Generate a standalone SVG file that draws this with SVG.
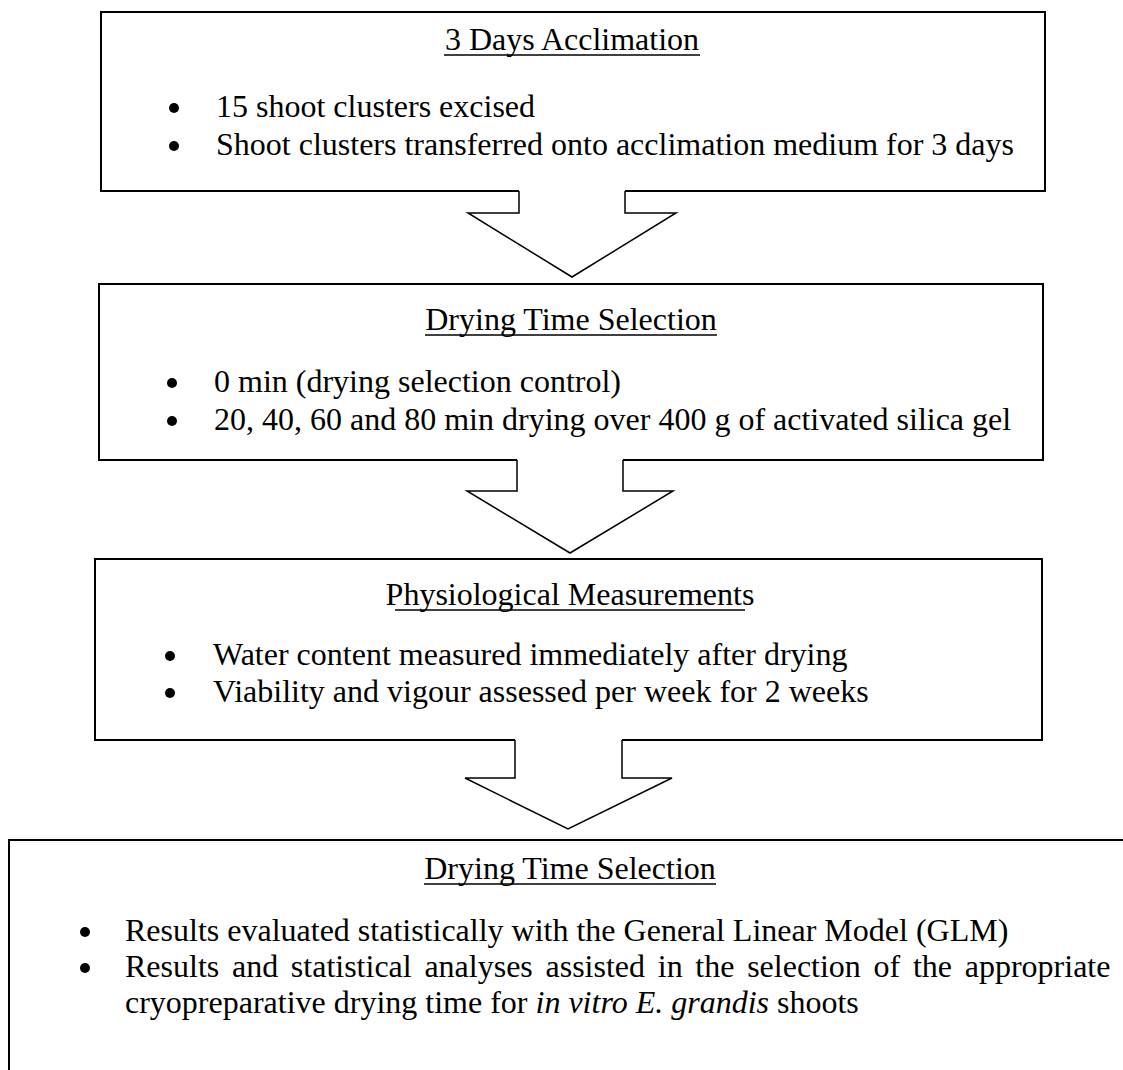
<svg xmlns="http://www.w3.org/2000/svg" width="1123" height="1070" viewBox="0 0 1123 1070">
<style>
.box{fill:#fff;stroke:#000;stroke-width:2}
.arr{fill:none;stroke:#000;stroke-width:1.5;stroke-linejoin:miter}
.cover{fill:#fff;stroke:none}
.bul{fill:#000}
text{font-family:"Liberation Serif","Times New Roman",serif;font-size:32px;fill:#000}
.h{text-anchor:middle}
.ul{stroke:#000;stroke-width:1.6}
</style>
<rect width="1123" height="1070" fill="#fff"/>
<g id="node1">
<rect class="box" x="101" y="12" width="944" height="179"/>
<text class="h" x="572" y="50">3 Days Acclimation</text>
<line class="ul" x1="444" y1="55" x2="700" y2="55"/>
<circle class="bul" cx="174" cy="108" r="5"/><text x="216" y="117">15 shoot clusters excised</text>
<circle class="bul" cx="174" cy="146" r="5"/><text x="216" y="155">Shoot clusters transferred onto acclimation medium for 3 days</text>
</g>
<g id="node2">
<rect class="box" x="99" y="284" width="944" height="176"/>
<text class="h" x="571" y="330">Drying Time Selection</text>
<line class="ul" x1="425" y1="335" x2="717" y2="335"/>
<circle class="bul" cx="172" cy="383" r="5"/><text x="214" y="392">0 min (drying selection control)</text>
<circle class="bul" cx="172" cy="421" r="5"/><text x="214" y="430">20, 40, 60 and 80 min drying over 400 g of activated silica gel</text>
</g>
<g id="node3">
<rect class="box" x="95" y="559" width="947" height="181"/>
<text class="h" x="570" y="605">Physiological Measurements</text>
<line class="ul" x1="395" y1="610" x2="745" y2="610"/>
<circle class="bul" cx="170" cy="656" r="5"/><text x="213" y="665">Water content measured immediately after drying</text>
<circle class="bul" cx="170" cy="693" r="5"/><text x="213" y="702">Viability and vigour assessed per week for 2 weeks</text>
</g>
<g id="node4">
<rect class="box" x="9" y="840" width="1130" height="250"/>
<text class="h" x="570" y="879">Drying Time Selection</text>
<line class="ul" x1="424" y1="884" x2="716" y2="884"/>
<circle class="bul" cx="85" cy="932" r="5"/><text x="125" y="941">Results evaluated statistically with the General Linear Model (GLM)</text>
<circle class="bul" cx="85" cy="968" r="5"/><text x="125" y="977" word-spacing="4.7">Results and statistical analyses assisted in the selection of the appropriate</text>
<text x="125" y="1013">cryopreparative drying time for <tspan font-style="italic">in vitro E. grandis</tspan> shoots</text>
</g>
<g id="connectors">
<path class="cover" d="M519,189 H625 V213 H676 L572,277 L468,213 H519 Z"/>
<path class="arr" d="M519,191 V213 H468 L572,277 L676,213 H625 V191"/>
<path class="cover" d="M517,458 H623 V491 H673 L570,553 L467,491 H517 Z"/>
<path class="arr" d="M517,460 V491 H467 L570,553 L673,491 H623 V460"/>
<path class="cover" d="M515,738 H622 V778 H672 L568,829 L465,778 H515 Z"/>
<path class="arr" d="M515,740 V778 H465 L568,829 L672,778 H622 V740"/>
</g>
</svg>
